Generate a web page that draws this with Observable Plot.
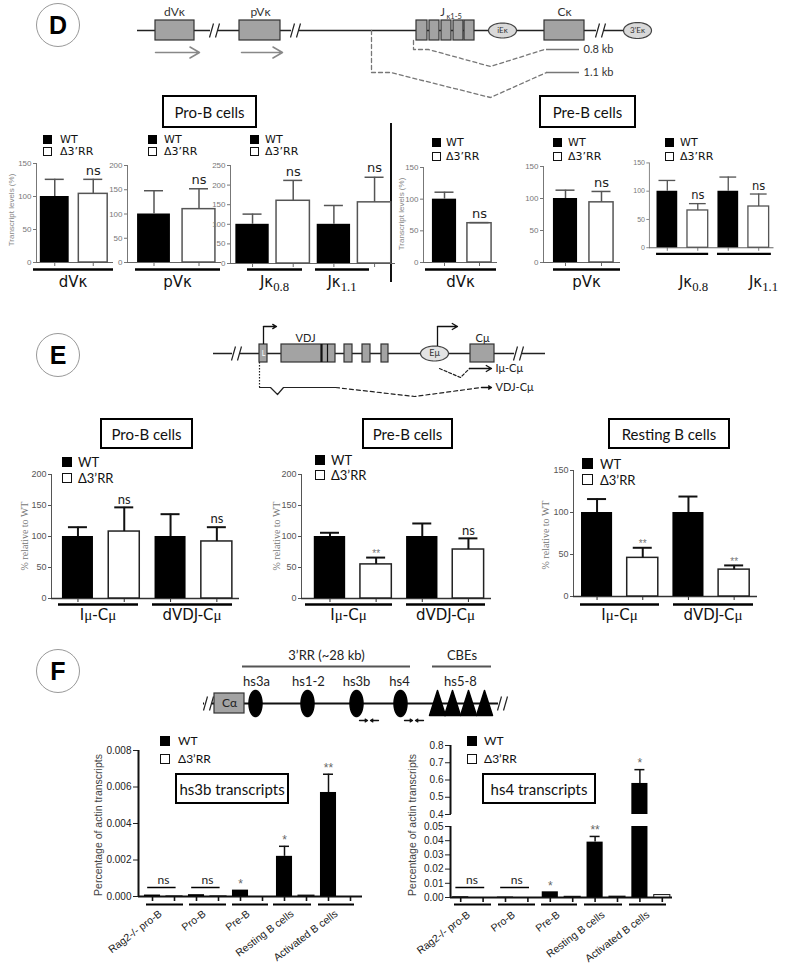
<!DOCTYPE html>
<html><head><meta charset="utf-8">
<script src="https://cdn.jsdelivr.net/npm/d3@7"></script>
<script src="https://cdn.jsdelivr.net/npm/@observablehq/plot@0.6"></script>
<style>
body{margin:0;background:#fff;}
#page{position:relative;width:800px;height:966px;overflow:hidden;background:#fff;}
#page svg{overflow:visible;}
sub{font-family:"Liberation Serif",serif;font-size:0.85em;vertical-align:-0.3em;line-height:0;}
.ser{font-family:"Liberation Serif",serif;}
</style></head>
<body><div id="page"></div>
<script>
// ---------------- DATA ----------------
const SERIES = ["WT", "Δ3’RR"];

// Panel D : Igκ germline transcripts (transcript levels, %)
const D_CAT_DVK = ["dVκ"];
const D_CAT_PVK = ["pVκ"];
const D_CAT_JK = ["Jκ0.8", "Jκ1.1"];
const D_TICKS_150 = [0, 50, 100, 150];
const D_TICKS_200 = [0, 50, 100, 150, 200];
const D_TICKS_250 = [0, 50, 100, 150, 200, 250];

const D_PROB_DVK_WT = [100], D_PROB_DVK_WT_TOP = [126];
const D_PROB_DVK_DEL = [104], D_PROB_DVK_DEL_TOP = [126], D_PROB_DVK_SIG = ["ns"];
const D_PROB_PVK_WT = [100], D_PROB_PVK_WT_TOP = [148];
const D_PROB_PVK_DEL = [110], D_PROB_PVK_DEL_TOP = [152], D_PROB_PVK_SIG = ["ns"];
const D_PROB_JK_WT = [100, 100], D_PROB_JK_WT_TOP = [126, 148];
const D_PROB_JK_DEL = [160, 156], D_PROB_JK_DEL_TOP = [212, 220], D_PROB_JK_SIG = ["ns", "ns"];

const D_PREB_DVK_WT = [100], D_PREB_DVK_WT_TOP = [111];
const D_PREB_DVK_DEL = [62], D_PREB_DVK_DEL_TOP = [63], D_PREB_DVK_SIG = ["ns"];
const D_PREB_PVK_WT = [100], D_PREB_PVK_WT_TOP = [113];
const D_PREB_PVK_DEL = [94], D_PREB_PVK_DEL_TOP = [111], D_PREB_PVK_SIG = ["ns"];
const D_PREB_JK_WT = [100, 100], D_PREB_JK_WT_TOP = [119, 125];
const D_PREB_JK_DEL = [66, 73], D_PREB_JK_DEL_TOP = [78, 95], D_PREB_JK_SIG = ["ns", "ns"];

// Panel E : μ transcripts (% relative to WT)
const E_CAT = ["Iμ-Cμ", "dVDJ-Cμ"];
const E_TICKS_200 = [0, 50, 100, 150, 200];
const E_TICKS_150 = [0, 50, 100, 150];
const E_PROB_WT = [100, 100], E_PROB_WT_TOP = [115, 136];
const E_PROB_DEL = [108, 92], E_PROB_DEL_TOP = [147, 115], E_PROB_SIG = ["ns", "ns"];
const E_PREB_WT = [100, 100], E_PREB_WT_TOP = [106, 121];
const E_PREB_DEL = [55, 79], E_PREB_DEL_TOP = [66, 97], E_PREB_SIG = ["**", "ns"];
const E_REST_WT = [100, 100], E_REST_WT_TOP = [116, 119];
const E_REST_DEL = [46, 32], E_REST_DEL_TOP = [58, 37], E_REST_SIG = ["**", "**"];

// Panel F : enhancer transcripts (percentage of actin transcripts)
const F_CAT = ["Rag2-/- pro-B", "Pro-B", "Pre-B", "Resting B cells", "Activated B cells"];
const F_NS = ["ns", "ns", null, null, null];
const F_HS3B_TICKS = [0, 0.002, 0.004, 0.006, 0.008];
const F_HS3B_WT = [0.00008, 0.0001, 0.00035, 0.0022, 0.0057];
const F_HS3B_WT_TOP = [null, null, null, 0.00275, 0.0067];
const F_HS3B_DEL = [0.00001, 0.00001, 0, 0.00005, 0];
const F_HS3B_SIG = [null, null, "*", "*", "**"];
const F_HS4_TICKS_LOW = [0, 0.01, 0.02, 0.03, 0.04, 0.05];
const F_HS4_TICKS_HIGH = [0.4, 0.5, 0.6, 0.7, 0.8];
const F_HS4_WT = [0.0005, 0.0003, 0.004, 0.039, 0.58];
const F_HS4_WT_TOP = [null, null, null, 0.043, 0.66];
const F_HS4_DEL = [0, 0, 0.0005, 0.0006, 0.0017];
const F_HS4_SIG = [null, null, "*", "**", "*"];

// ---------------- HELPERS ----------------
const page = document.getElementById("page");
function place(el, left, top) {
  const w = document.createElement("div");
  w.style.cssText = `position:absolute;left:${left}px;top:${top}px;`;
  w.appendChild(el); page.appendChild(w); return w;
}
function html(str, css) {
  const d = document.createElement("div");
  d.style.cssText = "position:absolute;" + css;
  d.innerHTML = str; page.appendChild(d); return d;
}
function catHTML(s) {
  return s.replace(/κ(\d\.\d)/, "κ<sub>$1</sub>").replace(/μ/g, '<span class="ser">μ</span>');
}
const DEJA = '"DejaVu Sans", sans-serif';
const LATO = 'Lato, "Open Sans", sans-serif';
const ARIAL = '"Liberation Sans", Arial, sans-serif';

function barChart(o) {
  const n = o.wt.length * 2;
  const slotW = (o.r1 - o.r0) / n;
  const inv = px => (px - o.r0) / slotW;
  const [d0, d1] = o.yDomain;
  const ppu = (o.y0 - o.yTop) / (d1 - d0);
  const yAt = px => d0 + (o.y0 - px) / ppu;
  const L = o.axisX - 60, T = o.yTop - 30;
  const W = o.baseEnd + 30 - L, H = Math.min(966, o.y0 + 90) - T;
  const rows = [];
  o.wt.forEach((v, i) => {
    rows.push({c: 2 * i + 0.5, v, top: o.wtTop[i], wt: true, sig: o.wtSig ? o.wtSig[i] : null});
    rows.push({c: 2 * i + 1.5, v: o.del[i], top: o.delTop ? o.delTop[i] : null, wt: false, sig: o.delSig ? o.delSig[i] : null});
  });
  const hw = o.bw / 2, cw = (o.capPx / slotW) / 2;
  const inDom = v => v != null && v >= d0 && v <= d1;
  const barRows = rows.filter(r => r.v > d0).map(r => ({...r, vv: Math.min(r.v, d1)}));
  const errRows = rows.filter(r => inDom(r.top) && r.top > r.v);
  const sigRows = rows.filter(r => r.sig && inDom(r.top != null ? r.top : r.v));
  const marks = [];
  if (o.showBase !== false) {
    marks.push(Plot.ruleY([d0], {x1: inv(o.axisX), x2: inv(o.baseEnd), stroke: o.baseColor, strokeWidth: o.baseW}));
    marks.push(Plot.ruleX(rows, {x: "c", y1: d0, y2: yAt(o.y0 + o.tickLen), stroke: o.baseColor, strokeWidth: o.baseW * 0.8}));
    marks.push(Plot.ruleY(o.lines, {y: yAt(o.lineY), x1: d => inv(d[0]), x2: d => inv(d[1]), stroke: "#000", strokeWidth: o.lineW}));
  }
  if (o.axisW) marks.push(Plot.ruleX([inv(o.axisX)], {y1: d0, y2: d1, stroke: o.baseColor, strokeWidth: o.axisW}));
  marks.push(Plot.rect(barRows.filter(r => r.wt), {x1: d => d.c - hw, x2: d => d.c + hw, y1: d0, y2: "vv", fill: "#000"}));
  marks.push(Plot.rect(barRows.filter(r => !r.wt), {x1: d => d.c - hw, x2: d => d.c + hw, y1: d0, y2: "vv", fill: "#fff", stroke: o.barStroke, strokeWidth: o.barSW}));
  marks.push(Plot.ruleX(errRows, {x: "c", y1: "v", y2: "top", stroke: o.errColor, strokeWidth: o.errW}));
  marks.push(Plot.ruleY(errRows, {y: "top", x1: d => d.c - cw, x2: d => d.c + cw, stroke: o.errColor, strokeWidth: o.errW}));
  const nsRows = sigRows.filter(r => r.sig === "ns");
  const starRows = sigRows.filter(r => r.sig !== "ns");
  marks.push(Plot.text(nsRows, {x: "c", y: d => d.top != null ? d.top : d.v, text: "sig", dy: o.nsDy, fontSize: o.nsSize, fontFamily: o.nsFont, fill: "#222"}));
  marks.push(Plot.text(starRows, {x: "c", y: d => d.top != null ? d.top : d.v, text: "sig", dy: o.starDy, fontSize: o.starSize, fontFamily: ARIAL, fill: o.starColor}));
  if (o.nsGroups && o.showBase !== false) {
    const g = o.nsGroups.map((s, i) => ({s, i})).filter(d => d.s);
    marks.push(Plot.ruleY(g, {y: yAt(o.nsLineY), x1: d => 2 * d.i + 0.5 - hw * 0.6, x2: d => 2 * d.i + 1.5 + hw * 0.2, stroke: "#000", strokeWidth: 1.5}));
    marks.push(Plot.text(g, {x: d => 2 * d.i + 1, y: yAt(o.nsLineY), text: "s", dy: -7, fontSize: 12, fontFamily: LATO, fill: "#222"}));
  }
  if (o.rotCats) {
    marks.push(Plot.text(o.rotCats.map((t, i) => ({t, i})), {x: d => 2 * d.i + 1, y: d0, text: "t", rotate: -37, textAnchor: "end", dx: o.rotDx, dy: o.rotDy, fontSize: 10.5, fontFamily: ARIAL, fill: "#222"}));
  }
  const svg = Plot.plot({
    width: W, height: H,
    marginLeft: o.axisX - L, marginRight: L + W - o.baseEnd,
    marginTop: o.yTop - T, marginBottom: T + H - o.y0,
    style: {background: "none", overflow: "visible", color: o.axisColor, fontSize: o.tickFont + "px", fontFamily: ARIAL},
    x: {domain: [0, n], range: [o.r0 - L, o.r1 - L], axis: null},
    y: {domain: o.yDomain, ticks: o.yTicks, tickFormat: o.fmt || (d => String(d)), line: true, tickSize: o.tickSize || 3, tickPadding: 2, label: null, nice: false},
    marks
  });
  place(svg, L, T);
  if (o.cats && o.showBase !== false && !o.rotCats) {
    o.lines.forEach((ln, i) => {
      const cx = (ln[0] + ln[1]) / 2;
      html(catHTML(o.cats[i]), `left:${cx - 80}px;top:${o.labelBase - 12.7}px;width:160px;text-align:center;line-height:15px;font-size:15px;font-family:${DEJA};color:#111;white-space:nowrap;`);
    });
  }
}
function legend(o) {
  html("", `left:${o.sqX}px;top:${o.wtY}px;width:${o.s}px;height:${o.s}px;background:#000;`);
  html("", `left:${o.sqX}px;top:${o.delY}px;width:${o.s}px;height:${o.s}px;border:1.5px solid #111;box-sizing:border-box;background:#fff;`);
  [o.wtY, o.delY].forEach((y, i) => html(SERIES[i], `left:${o.textX}px;top:${y + o.s / 2 - 8}px;height:16px;line-height:16px;font-family:${o.font};font-size:${o.size}px;color:#111;white-space:nowrap;`));
}
function titleBox(t, x1, x2, y1, y2, size) {
  html(t, `left:${x1}px;top:${y1}px;width:${x2 - x1}px;height:${y2 - y1}px;border:2px solid #000;box-sizing:border-box;display:flex;align-items:center;justify-content:center;font-family:${LATO};font-size:${size || 15}px;background:#fff;color:#111;`);
}
function yTitle(t, cx, cy, css) {
  html(t, `left:${cx - 100}px;top:${cy - 8}px;width:200px;height:16px;line-height:16px;text-align:center;transform:rotate(-90deg);white-space:nowrap;${css}`);
}
function circleLabel(t, cx, cy, r) {
  html(t, `left:${cx - r}px;top:${cy - r}px;width:${2 * r}px;height:${2 * r}px;border:1.5px solid #999;border-radius:50%;box-sizing:border-box;display:flex;align-items:center;justify-content:center;font-family:${ARIAL};font-weight:bold;font-size:25px;color:#000;background:#fff;`);
}
function ellipsePts(list) {
  return list.flatMap((e, id) => d3.range(0, 49).map(k => {
    const t = k / 48 * 2 * Math.PI;
    return {id, x: e.cx + e.rx * Math.cos(t), y: e.cy + e.ry * Math.sin(t)};
  }));
}
function diagram(top, height, marks) {
  const svg = Plot.plot({
    width: 800, height, marginTop: 0, marginBottom: 0, marginLeft: 0, marginRight: 0,
    x: {domain: [0, 800], range: [0, 800], axis: null},
    y: {domain: [top, top + height], range: [0, height], axis: null},
    style: {background: "none", overflow: "visible", fontFamily: LATO},
    marks
  });
  place(svg, 0, top);
}
function breakMarks(xs, y) {
  return [
    Plot.rect(xs, {x1: d => d - 4, x2: d => d + 4, y1: y - 2, y2: y + 2, fill: "#fff"}),
    Plot.link(xs, {x1: d => d - 5, x2: d => d - 1, y1: y + 7, y2: y - 7, stroke: "#222", strokeWidth: 1.2}),
    Plot.link(xs, {x1: d => d + 1, x2: d => d + 5, y1: y + 7, y2: y - 7, stroke: "#222", strokeWidth: 1.2})
  ];
}

// ---------------- PANEL D ----------------
circleLabel("D", 58, 25, 22);
const DK_LINE = [{x1: 137, x2: 623}];
const DK_BOXES = [[155, 194], [239, 280], [416, 427], [429, 439], [441, 451], [453, 463], [464, 474], [544, 584]];
const DK_BOX_LABELS = [{x: 174, t: "dVκ"}, {x: 260, t: "pVκ"}, {x: 564, t: "Cκ"}];
const DK_ELL = [{cx: 502, cy: 30, rx: 14, ry: 7.5, t: "iEκ"}, {cx: 637, cy: 30, rx: 14, ry: 8, t: "3’Eκ"}];
const DK_ARROWS = [[155, 199], [241, 282]];
const DK_T08 = [[413, 40], [413, 49], [428, 49], [490, 66], [544, 49]];
const DK_T11 = [[371, 30], [371, 72], [390, 72], [490, 97], [546, 72]];
const DK_KB = [{y: 49, t: "0.8 kb"}, {y: 72, t: "1.1 kb"}];
diagram(0, 110, [
  Plot.ruleY(DK_LINE, {y: 30, x1: "x1", x2: "x2", stroke: "#222", strokeWidth: 1.5}),
  ...breakMarks([214, 295, 600], 30),
  Plot.rect(DK_BOXES, {x1: d => d[0], x2: d => d[1], y1: 20, y2: 40, fill: "#a3a3a3", stroke: "#333", strokeWidth: 1.2}),
  Plot.line(ellipsePts(DK_ELL), {x: "x", y: "y", z: "id", fill: "#d9d9d9", stroke: "#444", strokeWidth: 1.2}),
  Plot.text(DK_ELL, {x: "cx", y: "cy", text: "t", fontSize: 8, fill: "#333"}),
  Plot.text(DK_BOX_LABELS, {x: "x", y: 12, text: "t", fontSize: 12, fill: "#333"}),
  Plot.text(["J"], {x: 442, y: 12, text: d => d, fontSize: 11, fill: "#333"}),
  Plot.text(["κ1-5"], {x: 446, y: 16, text: d => d, fontSize: 7.5, fill: "#333", textAnchor: "start"}),
  Plot.arrow(DK_ARROWS, {x1: d => d[0], x2: d => d[1], y1: 52, y2: 52, stroke: "#888", strokeWidth: 1.5, headLength: 11}),
  Plot.line(DK_T08, {x: d => d[0], y: d => d[1], stroke: "#777", strokeWidth: 1.3, strokeDasharray: "4,3"}),
  Plot.line(DK_T11, {x: d => d[0], y: d => d[1], stroke: "#777", strokeWidth: 1.3, strokeDasharray: "4,3"}),
  Plot.ruleY(DK_KB, {y: "y", x1: 546, x2: 579, stroke: "#777", strokeWidth: 1.5}),
  Plot.text(DK_KB, {x: 583, y: "y", text: "t", textAnchor: "start", fontSize: 11, fill: "#333"})
]);

titleBox("Pro-B cells", 162, 257, 95, 128, 15);
titleBox("Pre-B cells", 539, 636, 95, 128, 15);
html("", "left:390px;top:123px;width:2px;height:159px;background:#111;");

const D_STYLE = {axisColor: "#777", baseColor: "#666", baseW: 1.2, tickFont: 8, errColor: "#555", errW: 1.5, barStroke: "#555", barSW: 1.5,
  nsFont: DEJA, nsSize: 13, nsDy: -9, starSize: 11, starDy: -5, starColor: "#777", tickLen: 4, lineW: 2.5, capPx: 19, labelBase: 288, lineY: 269};
barChart({...D_STYLE, cats: D_CAT_DVK, axisX: 36, y0: 262, yTop: 163, yDomain: [0, 150], yTicks: D_TICKS_150, r0: 35, r1: 112, baseEnd: 113, bw: 0.75,
  wt: D_PROB_DVK_WT, wtTop: D_PROB_DVK_WT_TOP, del: D_PROB_DVK_DEL, delTop: D_PROB_DVK_DEL_TOP, delSig: D_PROB_DVK_SIG, lines: [[33, 113]]});
barChart({...D_STYLE, cats: D_CAT_PVK, axisX: 127, y0: 262, yTop: 165, yDomain: [0, 200], yTicks: D_TICKS_200, r0: 131, r1: 221, baseEnd: 221, bw: 0.73,
  wt: D_PROB_PVK_WT, wtTop: D_PROB_PVK_WT_TOP, del: D_PROB_PVK_DEL, delTop: D_PROB_PVK_DEL_TOP, delSig: D_PROB_PVK_SIG, lines: [[135, 220]]});
barChart({...D_STYLE, cats: D_CAT_JK, axisX: 230, y0: 263, yTop: 165, yDomain: [0, 250], yTicks: D_TICKS_250, r0: 231.7, r1: 394.4, baseEnd: 395, bw: 0.82,
  wt: D_PROB_JK_WT, wtTop: D_PROB_JK_WT_TOP, del: D_PROB_JK_DEL, delTop: D_PROB_JK_DEL_TOP, delSig: D_PROB_JK_SIG, lines: [[247, 302], [315, 369]]});
barChart({...D_STYLE, cats: D_CAT_DVK, axisX: 423, y0: 262, yTop: 167, yDomain: [0, 150], yTicks: D_TICKS_150, r0: 426.5, r1: 496.5, baseEnd: 497, bw: 0.69,
  wt: D_PREB_DVK_WT, wtTop: D_PREB_DVK_WT_TOP, del: D_PREB_DVK_DEL, delTop: D_PREB_DVK_DEL_TOP, delSig: D_PREB_DVK_SIG, lines: [[425, 496]]});
barChart({...D_STYLE, cats: D_CAT_PVK, axisX: 543, y0: 262, yTop: 166, yDomain: [0, 150], yTicks: D_TICKS_150, r0: 547, r1: 619, baseEnd: 620, bw: 0.67,
  wt: D_PREB_PVK_WT, wtTop: D_PREB_PVK_WT_TOP, del: D_PREB_PVK_DEL, delTop: D_PREB_PVK_DEL_TOP, delSig: D_PREB_PVK_SIG, lines: [[553, 620]]});
barChart({...D_STYLE, cats: D_CAT_JK, axisX: 656, y0: 262, yTop: 166, yDomain: [0, 150], yTicks: D_TICKS_150, r0: 659, r1: 797, baseEnd: 797, bw: 0.68,
  wt: D_PREB_JK_WT, wtTop: D_PREB_JK_WT_TOP, del: D_PREB_JK_DEL, delTop: D_PREB_JK_DEL_TOP, delSig: D_PREB_JK_SIG, lines: [[664, 723], [733, 794]]});

const D_LEG = {s: 9, font: DEJA, size: 11};
legend({...D_LEG, sqX: 43, wtY: 135, delY: 147, textX: 60});
legend({...D_LEG, sqX: 148, wtY: 135, delY: 147, textX: 164});
legend({...D_LEG, sqX: 250, wtY: 135, delY: 147, textX: 265});
legend({...D_LEG, sqX: 432, wtY: 138, delY: 152, textX: 446});
legend({...D_LEG, sqX: 553, wtY: 138, delY: 152, textX: 568});
legend({...D_LEG, sqX: 665, wtY: 138, delY: 152, textX: 680});
yTitle("Transcript levels (%)", 12, 210, `font-family:${ARIAL};font-size:8px;color:#888;`);
yTitle("Transcript levels (%)", 402, 214, `font-family:${ARIAL};font-size:8px;color:#888;`);

// ---------------- PANEL E ----------------
circleLabel("E", 58, 355, 22);
const EM_BOXES = [[259, 267], [281, 335], [344, 352], [362, 370], [381, 388], [470, 494]];
const EM_VDJ_SEAMS = [{x: 321, w: 2.2}, {x: 327, w: 1.2}];
const EM_ELL = [{cx: 434, cy: 353, rx: 14, ry: 7.5, t: "Eμ"}];
const EM_PROMOTERS = [{x: 263, y1: 344, y2: 326, x2: 276}, {x: 437, y1: 346, y2: 326, x2: 457}];
const EM_LABELS = [{x: 305, t: "VDJ"}, {x: 482, t: "Cμ"}];
const EM_IMU_DASH = [[439, 368], [460, 377], [469, 368]];
const EM_VDJ_SOLID = [[259, 387], [270, 387], [277, 394], [283, 387], [335, 387]];
const EM_VDJ_DASH = [[335, 387], [414, 396], [481, 387]];
const EM_TRANSCRIPTS = [{x1: 469, x2: 491, y: 368, t: "Iμ-Cμ"}, {x1: 481, x2: 491, y: 387, t: "VDJ-Cμ"}];
diagram(315, 90, [
  Plot.ruleY([0], {y: 353, x1: 213, x2: 545, stroke: "#222", strokeWidth: 1.5}),
  ...breakMarks([236, 518], 353),
  Plot.rect(EM_BOXES, {x1: d => d[0], x2: d => d[1], y1: 344, y2: 362, fill: "#a3a3a3", stroke: "#333", strokeWidth: 1.2}),
  Plot.ruleX(EM_VDJ_SEAMS, {x: "x", y1: 344, y2: 362, stroke: "#111", strokeWidth: d => d.w}),
  Plot.line(ellipsePts(EM_ELL), {x: "x", y: "y", z: "id", fill: "#e3e3e3", stroke: "#444", strokeWidth: 1.2}),
  Plot.text(EM_ELL, {x: "cx", y: "cy", text: "t", fontSize: 9, fill: "#333"}),
  Plot.text(["L"], {x: 263, y: 353, text: d => d, fontSize: 7, fill: "#fff"}),
  Plot.ruleX(EM_PROMOTERS, {x: "x", y1: "y1", y2: "y2", stroke: "#111", strokeWidth: 1.3}),
  Plot.arrow(EM_PROMOTERS, {x1: "x", x2: "x2", y1: "y2", y2: "y2", stroke: "#111", strokeWidth: 1.3, headLength: 7}),
  Plot.text(EM_LABELS, {x: "x", y: 338, text: "t", fontSize: 11, fill: "#222"}),
  Plot.line(EM_IMU_DASH, {x: d => d[0], y: d => d[1], stroke: "#222", strokeWidth: 1.2, strokeDasharray: "3,2"}),
  Plot.line(EM_VDJ_SOLID, {x: d => d[0], y: d => d[1], stroke: "#222", strokeWidth: 1.2}),
  Plot.line(EM_VDJ_DASH, {x: d => d[0], y: d => d[1], stroke: "#222", strokeWidth: 1.2, strokeDasharray: "4,3"}),
  Plot.ruleX([259], {x: d => d, y1: 362, y2: 387, stroke: "#222", strokeWidth: 1.2, strokeDasharray: "1.5,1.5"}),
  Plot.arrow(EM_TRANSCRIPTS, {x1: "x1", x2: "x2", y1: "y", y2: "y", stroke: "#111", strokeWidth: 1.3, headLength: 7}),
  Plot.text(EM_TRANSCRIPTS, {x: 495, y: "y", text: "t", textAnchor: "start", fontSize: 11, fill: "#222"})
]);

titleBox("Pro-B cells", 100, 193, 418, 449, 15);
titleBox("Pre-B cells", 362, 453, 418, 449, 15);
titleBox("Resting B cells", 608, 730, 418, 449, 15);

const E_STYLE = {axisColor: "#555", baseColor: "#333", baseW: 1.3, tickFont: 9, errColor: "#111", errW: 2, barStroke: "#222", barSW: 1.5,
  nsFont: LATO, nsSize: 13, nsDy: -8, starSize: 10, starDy: -4, starColor: "#777", tickLen: 4, lineW: 2.5, capPx: 19, labelBase: 621, lineY: 604};
barChart({...E_STYLE, cats: E_CAT, axisX: 51, y0: 598, yTop: 474, yDomain: [0, 200], yTicks: E_TICKS_200, r0: 54.3, r1: 239.5, baseEnd: 239, bw: 0.67,
  wt: E_PROB_WT, wtTop: E_PROB_WT_TOP, del: E_PROB_DEL, delTop: E_PROB_DEL_TOP, delSig: E_PROB_SIG, lines: [[58, 138], [152, 232]]});
barChart({...E_STYLE, cats: E_CAT, axisX: 301, y0: 598, yTop: 474, yDomain: [0, 200], yTicks: E_TICKS_200, r0: 306.4, r1: 491, baseEnd: 491, bw: 0.68,
  wt: E_PREB_WT, wtTop: E_PREB_WT_TOP, del: E_PREB_DEL, delTop: E_PREB_DEL_TOP, delSig: E_PREB_SIG, lines: [[305, 392], [406, 485]]});
barChart({...E_STYLE, cats: E_CAT, axisX: 573, y0: 596, yTop: 470, yDomain: [0, 150], yTicks: E_TICKS_150, r0: 573.7, r1: 756.5, baseEnd: 757, bw: 0.68,
  wt: E_REST_WT, wtTop: E_REST_WT_TOP, del: E_REST_DEL, delTop: E_REST_DEL_TOP, delSig: E_REST_SIG, lines: [[580, 659], [673, 753]]});
const E_LEG = {font: LATO, size: 13};
legend({...E_LEG, s: 10, sqX: 62, wtY: 457, delY: 473, textX: 78});
legend({...E_LEG, s: 10, sqX: 315, wtY: 455, delY: 470, textX: 331});
legend({...E_LEG, s: 11, sqX: 582, wtY: 458, delY: 474, textX: 600});
const SERIF_T = `font-family:"Liberation Serif",serif;font-size:10px;color:#777;`;
yTitle("% relative to WT", 25, 536, SERIF_T);
yTitle("% relative to WT", 277, 536, SERIF_T);
yTitle("% relative to WT", 546, 535, SERIF_T);

// ---------------- PANEL F ----------------
circleLabel("F", 58, 671, 22);
const F_RR = [{x1: 242, x2: 410, t: "3’RR (~28 kb)"}, {x1: 432, x2: 491, t: "CBEs"}];
const F_HS = [{x: 256, t: "hs3a"}, {x: 308, t: "hs1-2"}, {x: 356, t: "hs3b"}, {x: 399, t: "hs4"}, {x: 460, t: "hs5-8"}];
const F_ENH = [{cx: 255, cy: 703, rx: 6.5, ry: 13}, {cx: 307, cy: 703, rx: 6.5, ry: 13}, {cx: 356, cy: 703, rx: 6.5, ry: 13}, {cx: 400, cy: 703, rx: 6.5, ry: 13}];
const F_CBE = [437, 452, 468, 484];
const F_PRIMERS = [{x1: 359, x2: 367}, {x1: 378, x2: 370}, {x1: 404, x2: 412}, {x1: 423, x2: 415}];
diagram(640, 90, [
  Plot.ruleY(F_RR, {y: 666, x1: "x1", x2: "x2", stroke: "#555", strokeWidth: 2}),
  Plot.text(F_RR, {x: d => (d.x1 + d.x2) / 2, y: 655, text: "t", fontSize: 13, fill: "#222"}),
  Plot.text(F_HS, {x: "x", y: 681, text: "t", fontSize: 13, fill: "#222"}),
  Plot.ruleY([0], {y: 703, x1: 203, x2: 505, stroke: "#111", strokeWidth: 1.8}),
  ...breakMarks([208, 502], 703),
  Plot.rect([0], {x1: 214, x2: 244, y1: 693, y2: 713, fill: "#a3a3a3", stroke: "#333", strokeWidth: 1.2}),
  Plot.text(["Cα"], {x: 229, y: 703, text: d => d, fontSize: 12, fill: "#222"}),
  Plot.line(ellipsePts(F_ENH), {x: "x", y: "y", z: "id", fill: "#000", stroke: "#000"}),
  Plot.line(F_CBE.flatMap((c, id) => [[c - 8, 715], [c, 690], [c + 8, 715], [c - 8, 715]].map(p => ({id, x: p[0], y: p[1]}))), {x: "x", y: "y", z: "id", fill: "#000", stroke: "#000"}),
  Plot.arrow(F_PRIMERS, {x1: "x1", x2: "x2", y1: 720, y2: 720, stroke: "#111", strokeWidth: 1.3, headLength: 4})
]);

const F_STYLE = {axisColor: "#222", baseColor: "#111", baseW: 2, axisW: 2, tickFont: 10, tickSize: 5, errColor: "#111", errW: 1.5, barStroke: "#111", barSW: 1,
  nsFont: LATO, nsSize: 12, nsDy: -7, starSize: 12, starDy: -6, starColor: "#666", tickLen: 5, lineW: 2, capPx: 10, lineY: 904, nsLineY: 887,
  rotCats: F_CAT, rotDx: -3, rotDy: 16};
barChart({...F_STYLE, axisX: 138, y0: 896, yTop: 750, yDomain: [0, 0.008], yTicks: F_HS3B_TICKS, fmt: d3.format(".3f"), r0: 141, r1: 361, baseEnd: 362, bw: 0.73,
  wt: F_HS3B_WT, wtTop: F_HS3B_WT_TOP, del: F_HS3B_DEL, wtSig: F_HS3B_SIG, nsGroups: F_NS,
  lines: [[146, 183], [189, 226], [232, 268], [273, 311], [318, 354]]});
barChart({...F_STYLE, axisX: 450, y0: 897, yTop: 826, yDomain: [0, 0.05], yTicks: F_HS4_TICKS_LOW, fmt: d3.format(".2f"), r0: 449, r1: 673, baseEnd: 672, bw: 0.72,
  wt: F_HS4_WT, wtTop: F_HS4_WT_TOP, del: F_HS4_DEL, wtSig: F_HS4_SIG, nsGroups: F_NS,
  lines: [[454, 491], [498, 535], [541, 577], [584, 622], [629, 666]]});
barChart({...F_STYLE, showBase: false, rotCats: null, axisX: 450, y0: 814, yTop: 745, yDomain: [0.4, 0.8], yTicks: F_HS4_TICKS_HIGH, fmt: d3.format(".1f"), r0: 449, r1: 673, baseEnd: 672, bw: 0.72,
  wt: F_HS4_WT, wtTop: F_HS4_WT_TOP, del: F_HS4_DEL, wtSig: F_HS4_SIG, lines: []});
const F_LEG = {s: 10, font: LATO, size: 12};
legend({...F_LEG, sqX: 160, wtY: 736, delY: 754, textX: 178});
legend({...F_LEG, sqX: 467, wtY: 736, delY: 754, textX: 484});
titleBox("hs3b transcripts", 175, 289, 773, 804, 15);
titleBox("hs4 transcripts", 482, 596, 773, 804, 15);
const F_YT = `font-family:${ARIAL};font-size:10.5px;color:#444;`;
yTitle("Percentage of actin transcripts", 98, 825, F_YT);
yTitle("Percentage of actin transcripts", 412, 825, F_YT);
</script>
</body></html>
